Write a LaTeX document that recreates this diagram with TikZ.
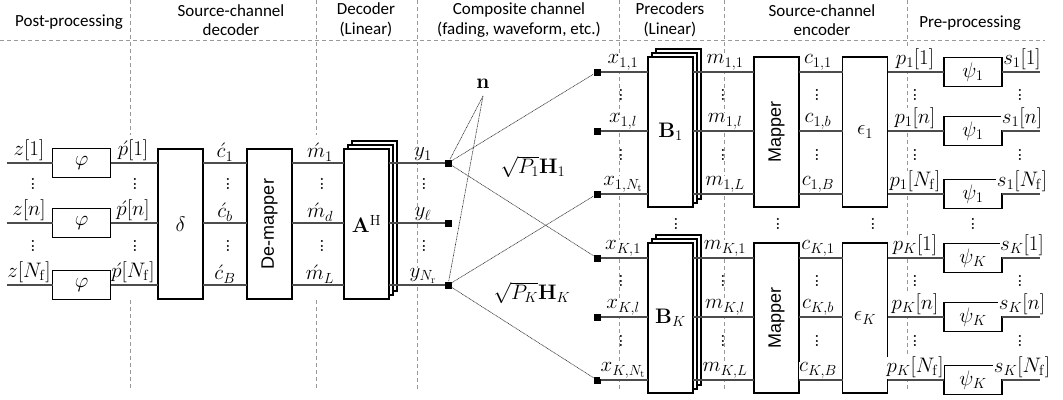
\RequirePackage{fix-cm}
\documentclass[tikz,border=0pt]{standalone}
\usepackage[no-math]{fontspec}
\setmainfont{Carlito}
\newfontfamily\arialf{Liberation Sans}
\newcommand\vdts{\vbox{\baselineskip4.5pt\lineskiplimit0pt\hbox{$.$}\hbox{$.$}\hbox{$.$}}}
\begin{document}
\begin{tikzpicture}[x=1pt,y=-1pt,
  every node/.style={inner sep=0pt,outer sep=0pt,font=\fontsize{21}{23}\selectfont},
  sig/.style={black!70,line width=1.3pt},
  box/.style={draw=black,line width=1.5pt,fill=white,minimum width=45pt,minimum height=150pt},
  fbox/.style={draw=black,line width=1.5pt,fill=white,minimum width=58pt,minimum height=29pt},
  sq/.style={fill=black,minimum size=7pt},
  lab/.style={anchor=south,fill=white,inner sep=0.5pt},
  sepl/.style={black!40,line width=0.7pt,dash pattern=on 4pt off 3pt},
  chan/.style={black!80,line width=0.6pt,dash pattern=on 1pt off 0.6pt},
  ah/.style={font=\fontsize{18}{20}\selectfont},
  hd/.style={align=center,font=\fontsize{17}{19.5}\selectfont}]
\useasboundingbox (0,0) rectangle (1063,399);
% header and separators
\draw[sepl] (0,40) -- (1045,40);
\foreach \sx in {130,316}{\draw[sepl] (\sx,0) -- (\sx,135); \draw[sepl] (\sx,300) -- (\sx,390);}
\foreach \sx in {417,619,724,907}{\draw[sepl] (\sx,0) -- (\sx,390);}
\node[hd] (h1) at (69,22) {Post-processing};
\node[hd] (h2) at (231,20) {Source-channel\\decoder};
\node[hd] (h3) at (366,20) {Decoder\\(Linear)};
\node[hd] (h4) at (519,20) {Composite channel\\(fading, waveform, etc.)};
\node[hd] (h5) at (670,20) {Precoders\\(Linear)};
\node[hd] (h6) at (822,20) {Source-channel\\encoder};
\node[hd] (h7) at (970,23) {Pre-processing};
% ---------------- receiver side
\node[box] (delta) at (180.5,224) {$\delta$};
\node[box,ah] (dem) at (269.5,224) {\rotatebox{90}{\arialf De-mapper}};
\node[box] (A3) at (374.5,216) {};
\node[box] (A2) at (370.5,220) {};
\node[box] (A) at (366.5,224) {$\mathbf{A}^\mathrm{H}$};
\foreach \r/\yy/\zl/\ci/\mi/\yi in {1/163/1/1/1/1, 2/223/n/b/d/\ell, 3/285/{N_\mathrm{f}}/B/L/{N_\mathrm{r}}}{
  \coordinate (zs\r) at (7,\yy);
  \node[fbox] (phi\r) at (81.5,\yy) {$\varphi$};
  \node[sq] (o\r) at (448,\yy) {};
  \draw[sig] (zs\r) -- (phi\r.west);
  \draw[sig] (phi\r.east) -- (phi\r.east -| delta.west);
  \draw[sig] (delta.east |- zs\r) -- (dem.west |- zs\r);
  \draw[sig] (dem.east |- zs\r) -- (A.west |- zs\r);
  \draw[sig] (A.east |- zs\r) -- (o\r);
  \node[lab] (lz\r) at (29,\yy-1.5) {$z[\zl]$};
  \node[lab] (lp\r) at (133,\yy-1.5) {$\acute{p}[\zl]$};
  \node[lab] (lc\r) at (225,\yy-1.5) {$\acute{c}_{\ci}$};
  \node[lab] (lm\r) at (320,\yy-1.5) {$\acute{m}_{\mi}$};
  \node[lab] (ly\r) at (423,\yy-1.5) {$y_{\yi}$};
}
\foreach \dx in {33,135,228,322,424}{
  \node (da\dx) at (\dx,184) {\vdts};
  \node (db\dx) at (\dx,246) {\vdts};
}
% ---------------- channel
\node (n) at (483,84) {$\mathbf{n}$};
\coordinate (nb) at (483,96);
\node (H1) at (533,167) {$\sqrt{P_1}\mathbf{H}_1$};
\node (HK) at (532,293) {$\sqrt{P_K}\mathbf{H}_K$};
% ---------------- transmitter side
\foreach \g/\d in {1/0,K/186}{
  \node[box] (B\g c) at (678.5,124+\d) {};
  \node[box] (B\g b) at (674.5,128+\d) {};
  \node[box] (B\g) at (670.5,132+\d) {$\mathbf{B}_\g$};
  \node[box,ah] (M\g) at (776.5,132+\d) {\rotatebox{90}{\arialf Mapper}};
  \node[box] (E\g) at (865,132+\d) {$\epsilon_\g$};
  \foreach \r/\yy/\xi/\mi/\ci/\pp in {1/72/1/1/1/1, 2/131/l/l/b/n, 3/194/{N_\mathrm{t}}/L/B/{N_\mathrm{f}}}{
    \node[sq] (sq\g\r) at (597,\yy+\d) {};
    \node[fbox] (psi\g\r) at (973,\yy+\d) {$\psi_\g$};
    \coordinate (end\g\r) at (1040,\yy+\d);
    \draw[sig] (sq\g\r) -- (sq\g\r -| B\g.west);
    \draw[sig] (B\g.east |- sq\g\r) -- (M\g.west |- sq\g\r);
    \draw[sig] (M\g.east |- sq\g\r) -- (E\g.west |- sq\g\r);
    \draw[sig] (E\g.east |- sq\g\r) -- (psi\g\r.west);
    \draw[sig] (psi\g\r.east) -- (end\g\r);
    \node[lab] (lx\g\r) at (623,\yy+\d-1.5) {$x_{\g,\xi}$};
    \node[lab] (lmm\g\r) at (725,\yy+\d-1.5) {$m_{\g,\mi}$};
    \node[lab] (lcc\g\r) at (818,\yy+\d-1.5) {$c_{\g,\ci}$};
    \node[lab] (lpp\g\r) at (915,\yy+\d-1.5) {$p_\g[\pp]$};
    \node[lab] (ls\g\r) at (1022,\yy+\d-1.5) {$s_\g[\pp]$};
  }
  \foreach \dx in {621,723,817,915,1020}{
    \node (dc\g\dx) at (\dx,95+\d) {\vdts};
    \node (dd\g\dx) at (\dx,155+\d) {\vdts};
  }
}
\foreach \dx in {676,778,873,973}{\node (dm\dx) at (\dx,224) {\vdts};}
% channel lines
\draw[chan] (nb) -- (o1);
\draw[chan] (nb) -- (o3);
\draw[chan] (o1) -- (sq11);
\draw[chan] (o1) -- (sqK1);
\draw[chan] (o3) -- (sq13);
\draw[chan] (o3) -- (sqK3);
\end{tikzpicture}
\end{document}
